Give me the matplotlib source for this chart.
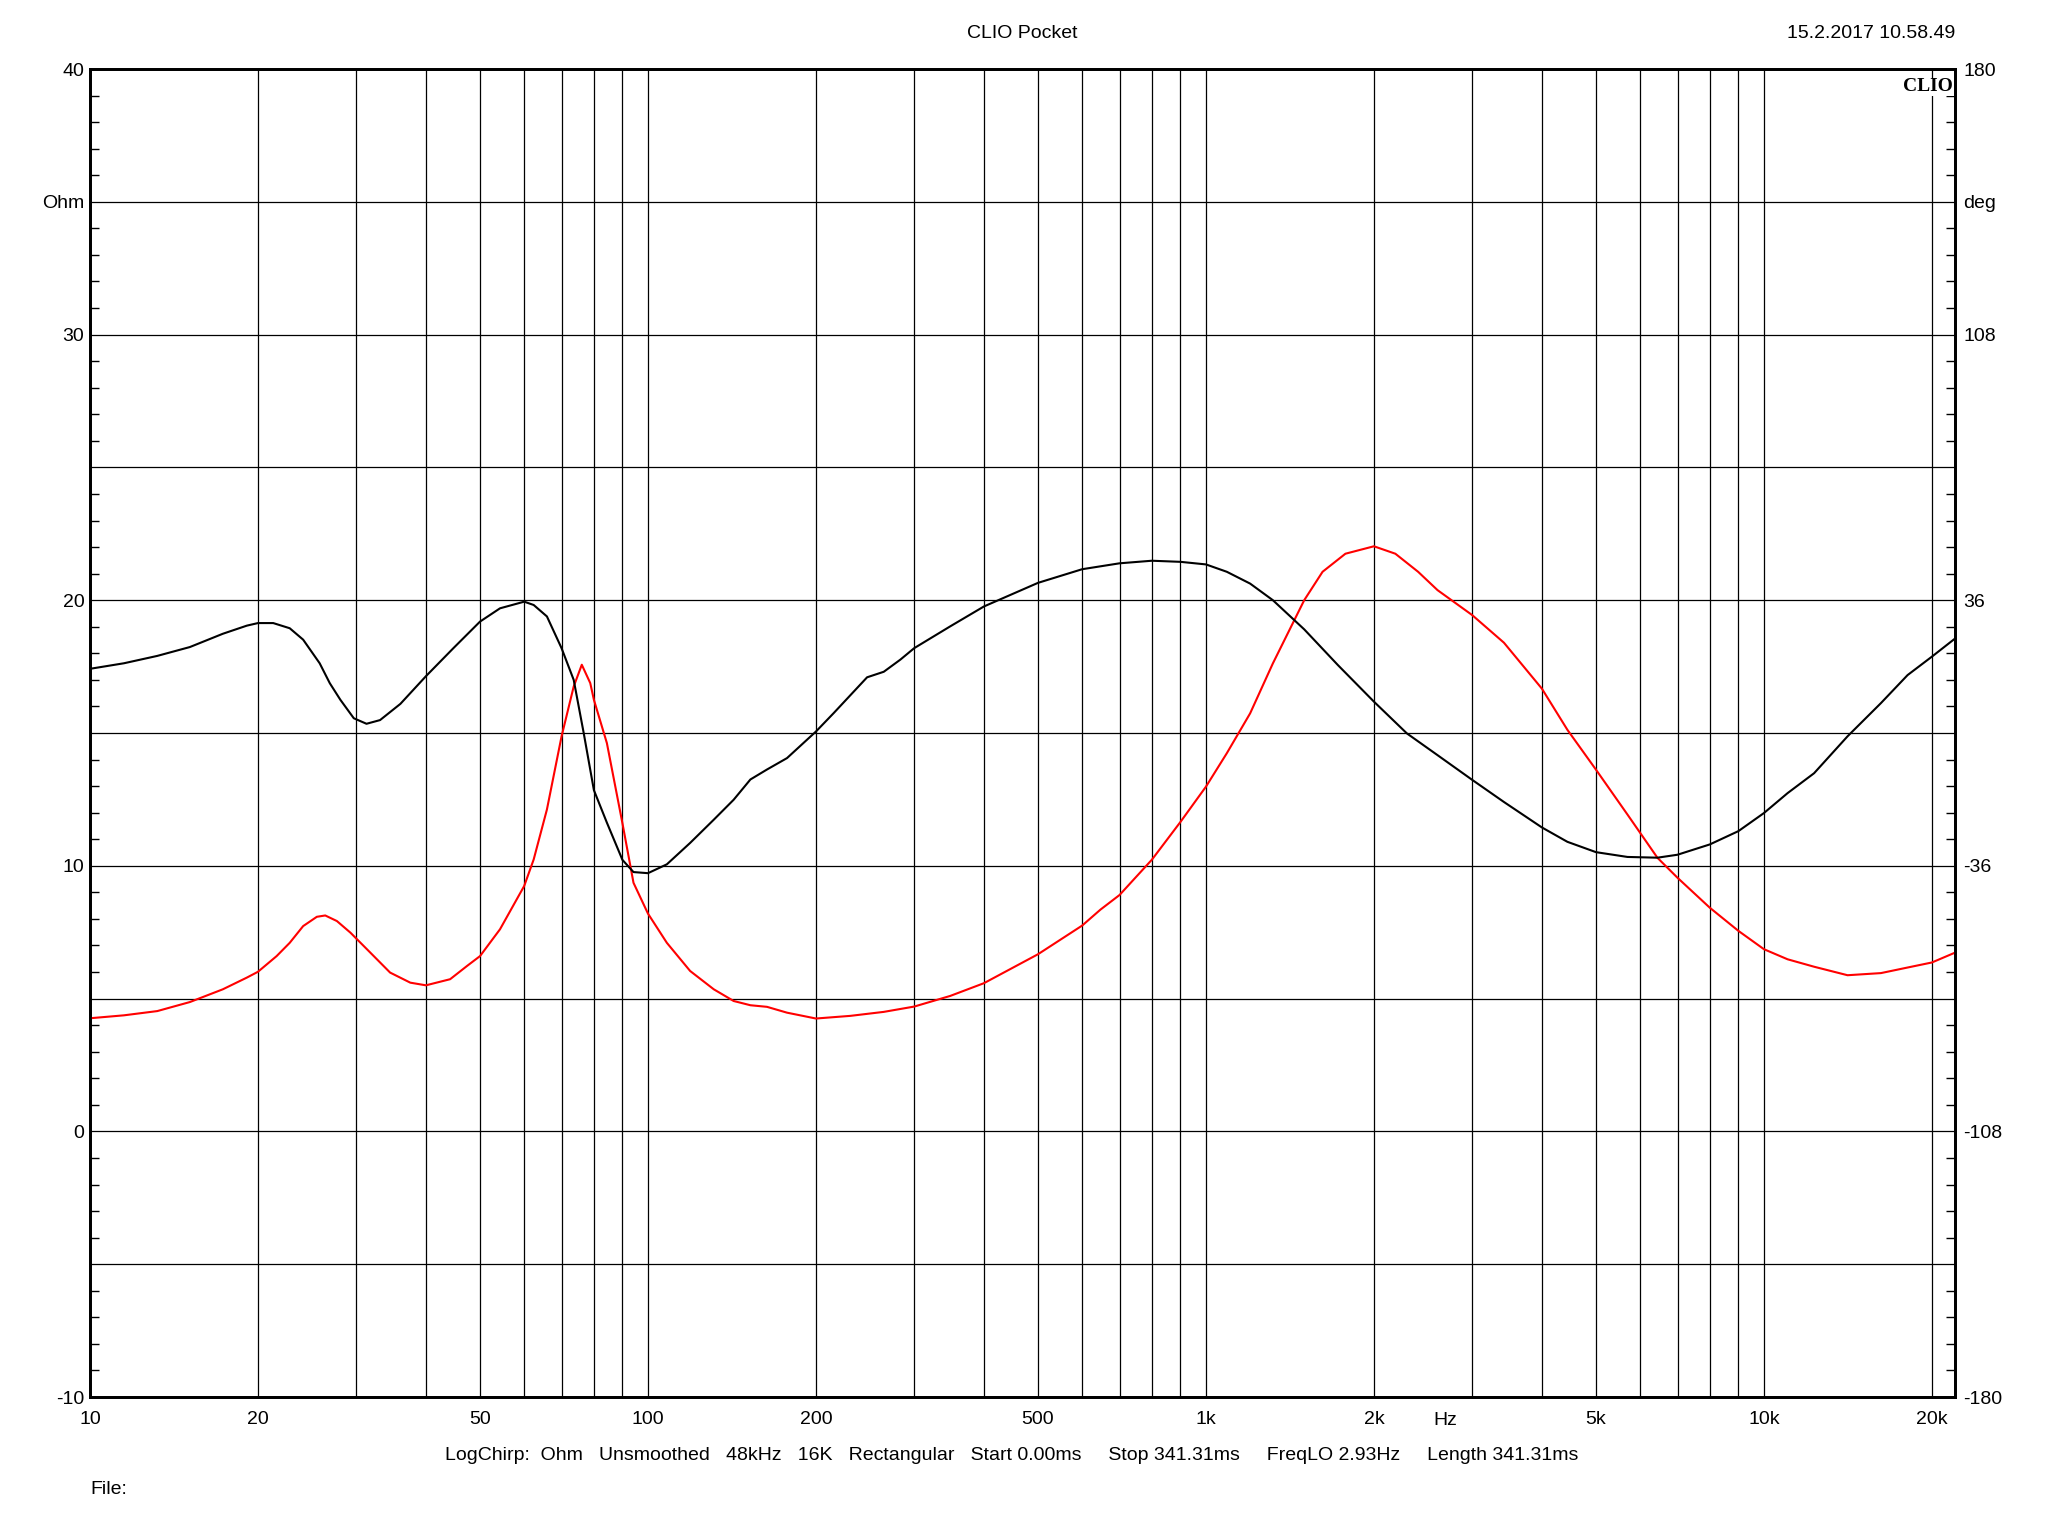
import matplotlib
matplotlib.use('Agg')
import matplotlib.pyplot as plt
from matplotlib.ticker import FixedLocator, MultipleLocator

plt.rcParams['font.family'] = ['Liberation Sans', 'DejaVu Sans']

# ----------------------------------------------------------------------------------------
#                             DATA AREA

# impedance magnitude (red, Ohm)
imp_freq = [10, 11.5, 13.2, 15.1, 17.3, 19.1, 20, 21.6, 22.8, 24.1, 25.5, 26.4, 27.7, 29.3,
            31.8, 34.5, 37.5, 40, 44.2, 47.4, 50, 54.3, 60, 62.4, 65.9, 70, 73.6, 76.1, 78.8,
            80, 84.4, 90, 94.2, 100, 108.1, 119, 131.2, 142.4, 152.6, 163.4, 177.5, 200,
            230.5, 264.6, 300, 348, 400, 500, 600, 647, 700, 800, 900, 1000, 1090, 1200,
            1318, 1500, 1618, 1778, 2000, 2185, 2400, 2600, 3000, 3420, 4000, 4444, 5000,
            5694, 6445, 7000, 8000, 9000, 10000, 11025, 12300, 14120, 16205, 18090, 20000,
            22000]
imp_ohm = [4.26, 4.37, 4.53, 4.87, 5.35, 5.79, 6.01, 6.6, 7.1, 7.73, 8.08, 8.13, 7.92, 7.48,
           6.73, 5.98, 5.6, 5.5, 5.73, 6.23, 6.6, 7.61, 9.24, 10.24, 12.12, 14.87, 16.75,
           17.57, 16.88, 16.25, 14.62, 11.6, 9.36, 8.2, 7.1, 6.04, 5.35, 4.91, 4.75, 4.69,
           4.47, 4.25, 4.35, 4.5, 4.7, 5.1, 5.58, 6.67, 7.75, 8.35, 8.9, 10.23, 11.65, 12.98,
           14.24, 15.74, 17.62, 20.0, 21.07, 21.75, 22.03, 21.75, 21.07, 20.38, 19.44, 18.4,
           16.67, 15.12, 13.62, 11.93, 10.3, 9.55, 8.42, 7.55, 6.86, 6.48, 6.2, 5.88, 5.96,
           6.17, 6.36, 6.73]

# phase (black, deg)
ph_freq = [10, 11.5, 13.2, 15.1, 17.3, 19.1, 20, 21.3, 22.8, 24.1, 25.8, 26.9, 28.1, 29.7,
           31.3, 33.1, 36.0, 40, 44.8, 50, 54.3, 60, 62.4, 65.9, 70, 73.6, 76.7, 80, 84.4,
           90, 94.2, 100, 108.1, 119, 131.2, 142.4, 152.6, 163.4, 177.5, 200, 215.2, 247,
           264.6, 283.4, 300, 348, 400, 500, 600, 700, 800, 900, 1000, 1090, 1200, 1318,
           1500, 1724, 2000, 2291, 2600, 3000, 3420, 4000, 4444, 5000, 5694, 6445, 7000,
           8000, 9000, 10000, 11025, 12300, 14120, 16205, 18090, 20000, 22000]
ph_deg = [17.4, 18.9, 20.9, 23.3, 26.9, 29.1, 29.8, 29.8, 28.4, 25.3, 18.9, 13.5, 9.0, 4.0,
          2.5, 3.5, 7.9, 15.4, 23.0, 30.2, 33.8, 35.6, 34.7, 31.6, 23.0, 14.4, 0.0, -15.5,
          -24.3, -34.4, -37.7, -38.0, -35.6, -29.8, -23.5, -18.1, -12.6, -9.9, -6.8, 0.4,
          5.4, 15.1, 16.6, 19.9, 23.0, 28.9, 34.3, 40.7, 44.4, 46.0, 46.7, 46.4, 45.7, 43.7,
          40.5, 36.0, 28.1, 18.4, 8.5, -0.1, -6.0, -12.7, -18.7, -25.6, -29.5, -32.3, -33.6,
          -33.8, -33.0, -30.2, -26.6, -21.7, -16.3, -10.9, -0.9, 8.1, 15.7, 20.7, 25.6]

# axis labels
grid_freqs = [10, 20, 30, 40, 50, 60, 70, 80, 90, 100, 200, 300, 400, 500, 600, 700, 800, 900,
              1000, 2000, 3000, 4000, 5000, 6000, 7000, 8000, 9000, 10000, 20000]
freq_labels = {10: '10', 20: '20', 50: '50', 100: '100', 200: '200', 500: '500',
               1000: '1k', 2000: '2k', 5000: '5k', 10000: '10k', 20000: '20k'}
ohm_ticks = [-10, -5, 0, 5, 10, 15, 20, 25, 30, 35, 40]
ohm_labels = ['-10', '', '0', '', '10', '', '20', '', '30', 'Ohm', '40']
deg_ticks = [-180, -144, -108, -72, -36, 0, 36, 72, 108, 144, 180]
deg_labels = ['-180', '', '-108', '', '-36', '', '36', '', '108', 'deg', '180']

info_line = ("LogChirp:  Ohm   Unsmoothed   48kHz   16K   Rectangular   Start 0.00ms     "
             "Stop 341.31ms     FreqLO 2.93Hz     Length 341.31ms")


# ----------------------------------------------------------------------------------------
#                             PLOTTING AREA

W, H = 2048, 1536
fig = plt.figure(figsize=(W / 100, H / 100), dpi=100)
left, right, top, bottom = 90, 1955, 69, 1397
ax = fig.add_axes([left / W, 1 - bottom / H, (right - left) / W, (bottom - top) / H])
ax2 = ax.twinx()

ax.set_xscale('log')
ax.set_xlim(10, 22000)
ax.set_ylim(-10, 40)
ax2.set_ylim(-180, 180)

# grid
ax.xaxis.set_major_locator(FixedLocator(grid_freqs))
ax.set_xticklabels([freq_labels.get(f, '') for f in grid_freqs])
ax.xaxis.set_minor_locator(FixedLocator([]))
ax.set_yticks(ohm_ticks)
ax.set_yticklabels(ohm_labels)
ax.yaxis.set_minor_locator(MultipleLocator(1))
ax2.set_yticks(deg_ticks)
ax2.set_yticklabels(deg_labels)
ax2.yaxis.set_minor_locator(MultipleLocator(7.2))
ax.grid(True, which='major', color='black', linewidth=0.9)

ax.tick_params(axis='x', which='major', length=0, pad=10, labelsize=14)
ax.tick_params(axis='y', which='major', length=0, pad=4, labelsize=14)
ax.tick_params(axis='y', which='minor', direction='in', length=6.5, width=1.0)
ax2.tick_params(axis='y', which='major', length=0, pad=6, labelsize=14)
ax2.tick_params(axis='y', which='minor', direction='in', length=6.5, width=1.0)

for a in (ax, ax2):
    for sp in a.spines.values():
        sp.set_linewidth(2.0)

# curves
ax.plot(imp_freq, imp_ohm, color='#ff0000', linewidth=1.5, zorder=3)
ax2.plot(ph_freq, ph_deg, color='black', linewidth=1.5, zorder=3)

# texts
ax.text(2680, -10.55, 'Hz', ha='center', va='top', fontsize=14)
ax2.text(0.999, 0.993, 'CLIO', transform=ax2.transAxes, ha='right', va='top',
         fontsize=14, fontweight='bold', family='Liberation Serif',
         bbox=dict(facecolor='white', edgecolor='none', pad=0.5), zorder=5)

fig.text(1022 / W, 1 - 34 / H, 'CLIO Pocket', ha='center', va='center', fontsize=14)
fig.text(right / W, 1 - 34 / H, '15.2.2017 10.58.49', ha='right', va='center', fontsize=14)
fig.text(1012 / W, 1 - 1455 / H, info_line, ha='center', va='center', fontsize=14)
fig.text(left / W, 1 - 1489 / H, 'File:', ha='left', va='center', fontsize=14)

fig.savefig('out.png', dpi=100, facecolor='white')
